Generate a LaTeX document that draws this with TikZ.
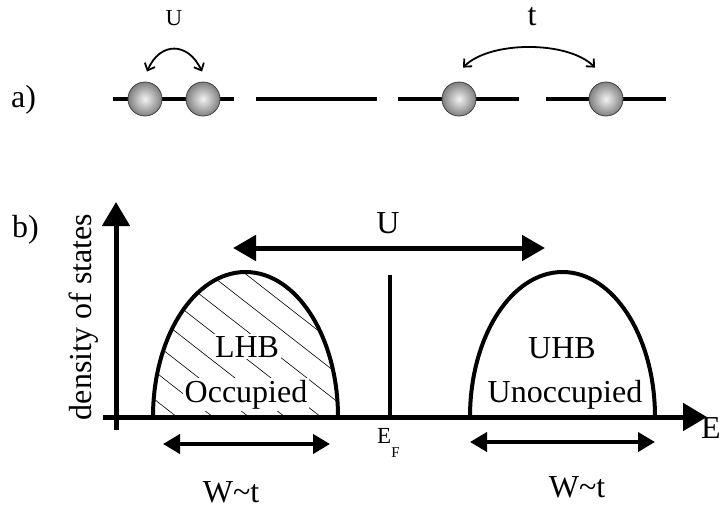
\documentclass[tikz,border=0pt]{standalone}
\usepackage{fontspec}
\setmainfont{Liberation Serif}
\usetikzlibrary{arrows.meta,positioning,calc}
\newcommand{\setfs}[1]{\fontsize{#1}{#1}\selectfont}

\begin{document}
\begin{tikzpicture}[x=1pt,y=-1pt,site/.style={line width=4pt},ball/.style={circle,draw=black!75,line width=0.8pt,inner sep=0pt,minimum size=34pt,inner color=black!5,outer color=black!50},hop/.style={{Straight Barb[length=6pt,width=11pt]}-{Straight Barb[length=6pt,width=11pt]},line width=1.8pt},gap/.style={{Triangle[length=23pt,width=25pt]}-{Triangle[length=23pt,width=25pt]},line width=5pt},wid/.style={{Triangle[length=17pt,width=19pt]}-{Triangle[length=17pt,width=19pt]},line width=4pt},axis/.style={-{Triangle[length=24pt,width=27pt]},line width=5pt},dome/.style={line width=4pt},hatch/.style={line width=0.6pt},lab/.style={font=\setfs{32},inner sep=0pt,anchor=base}]
\useasboundingbox (0,0) rectangle (722,509);
% a) sites and hopping
\node[lab,anchor=base west] (la) at (11,107) {a)};
\draw[site] (113,99) -- (234,99); \draw[site] (256,99) -- (377,99);
\draw[site] (398,99) -- (519,99); \draw[site] (546,99) -- (666,99);
\node[ball] (e1) at (145,99) {}; \node[ball] (e2) at (203,99) {};
\node[ball] (e3) at (459,99) {}; \node[ball] (e4) at (606,99) {};
\coordinate (u1) at ($(e1.north)+(2,-10)$); \coordinate (u2) at ($(e2.north)+(-1,-10)$);
\coordinate (t1) at ($(e3.north)+(4,-14)$); \coordinate (t2) at ($(e4.north)+(-11,-14)$);
\draw[hop] (u1) .. controls +(13,-30) and +(-14,-30) .. (u2);
\draw[hop] (t1) .. controls +(27,-27) and +(-27,-27) .. (t2);
\node[lab,font=\setfs{23}] (ua) at (174,25) {U};
\node[lab] (ta) at (532,25) {t};
% b) density of states
\node[lab,anchor=base west] (lb) at (12,237) {b)};
\coordinate (ybot) at (116,430); \coordinate (ytop) at (116,202);
\coordinate (xl) at (103,417); \coordinate (xr) at (707,417);
\draw[axis] (ybot) -- (ytop); \draw[axis] (xl) -- (xr);
\node[lab,anchor=center,rotate=90] (dos) at (84,317) {density of states};
\begin{scope}
\clip (153,417) arc[start angle=180,end angle=360,x radius=92.5,y radius=145] -- cycle;
\foreach \s in {105,141,...,465} \draw[hatch] (\s-230,237.6) -- (\s+20,432.6);
\end{scope}
\draw[dome] (153,417) arc[start angle=180,end angle=360,x radius=92.5,y radius=145];
\draw[dome] (470,417) arc[start angle=180,end angle=360,x radius=92.5,y radius=145];
\draw[dome] (390,275) -- (390,417);
\node[lab,fill=white,inner sep=2pt] (lhb) at (247,357) {LHB};
\node[lab,fill=white,inner sep=2pt] (occ) at (246,402) {Occupied};
\node[lab] (uhb) at (562,358) {UHB};
\node[lab] (unocc) at (565,402) {Unoccupied};
\coordinate (ul) at (233,248); \coordinate (ur) at (545,248);
\draw[gap] (ul) -- (ur);
\node[lab] (ub) at (388,233) {U};
\node[lab,font=\setfs{23},anchor=base west] (ef) at (377,443) {E{\setfs{15}\raisebox{-14pt}{F}}};
\node[lab,anchor=base west] (ex) at (701,438) {E};
\coordinate (w1) at (163,444); \coordinate (w2) at (330,444);
\coordinate (w3) at (470,442); \coordinate (w4) at (655,442);
\draw[wid] (w1) -- (w2); \draw[wid] (w3) -- (w4);
\node[lab] (wl) at (231,502) {W\textasciitilde t};
\node[lab] (wr) at (577,497) {W\textasciitilde t};
\end{tikzpicture}
\end{document}
